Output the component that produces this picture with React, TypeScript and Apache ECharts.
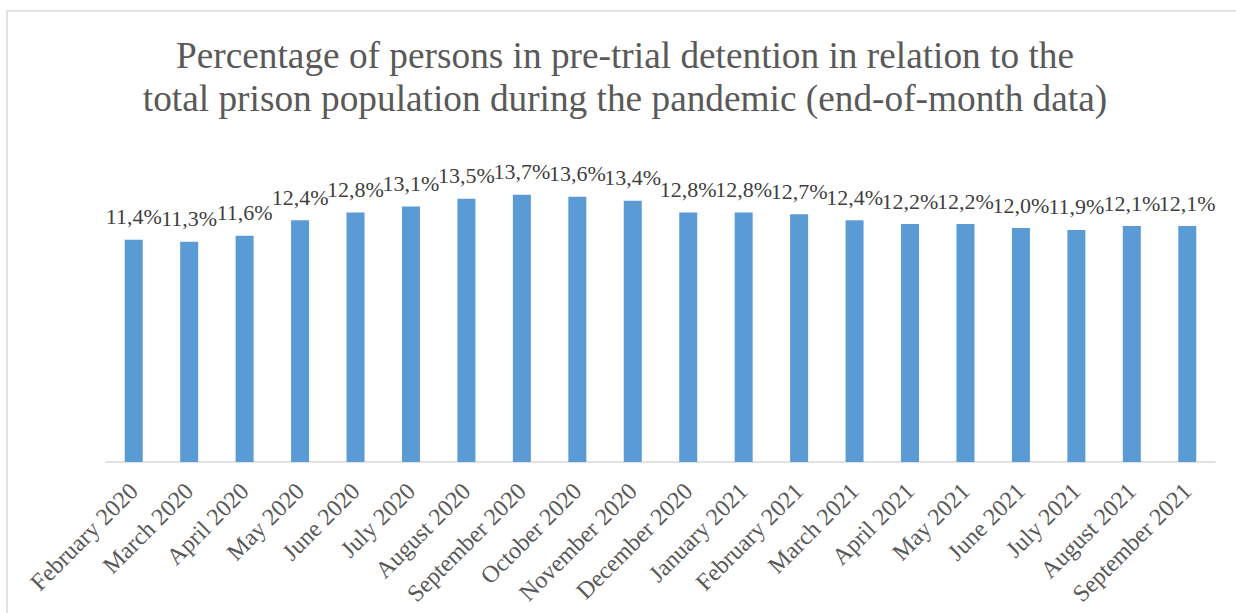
import React, { useEffect, useRef } from "react";
import * as echarts from "echarts";

const titleLines = [
  "Percentage of persons in pre-trial detention in relation to the",
  "total prison population during the pandemic (end-of-month data)",
];

const months = [
  "February 2020", "March 2020", "April 2020", "May 2020", "June 2020",
  "July 2020", "August 2020", "September 2020", "October 2020", "November 2020",
  "December 2020", "January 2021", "February 2021", "March 2021", "April 2021",
  "May 2021", "June 2021", "July 2021", "August 2021", "September 2021",
];

const shares = [
  11.4, 11.3, 11.6, 12.4, 12.8, 13.1, 13.5, 13.7, 13.6, 13.4,
  12.8, 12.8, 12.7, 12.4, 12.2, 12.2, 12.0, 11.9, 12.1, 12.1,
];

const FONT = "'Liberation Serif', 'Times New Roman', serif";

export default function App() {
  const ref = useRef<HTMLDivElement>(null);
  useEffect(() => {
    if (!ref.current) return;
    const chart = echarts.init(ref.current, null, { renderer: "svg" });
    chart.setOption({
      animation: false,
      backgroundColor: "#ffffff",
      title: {
        text: titleLines.join("\n"),
        left: 620,
        textAlign: "center",
        top: 29,
        textStyle: {
          fontFamily: FONT,
          fontSize: 37.3,
          fontWeight: "normal",
          color: "#595959",
          lineHeight: 43,
        },
      },
      graphic: [
        {
          type: "rect",
          shape: { x: 7, y: 11, width: 1400, height: 800 },
          style: { fill: "none", stroke: "#d9d9d9", lineWidth: 1.5 },
          silent: true,
          z: -1,
        },
      ],
      grid: { left: 106, right: 21, top: 189, bottom: 151, containLabel: false },
      xAxis: {
        type: "category",
        data: months,
        axisLine: { lineStyle: { color: "#d9d9d9", width: 1.5 } },
        axisTick: { show: false },
        axisLabel: {
          rotate: 45,
          interval: 0,
          margin: 25,
          fontFamily: FONT,
          fontSize: 24,
          color: "#595959",
        },
      },
      yAxis: {
        type: "value",
        min: 0,
        max: 14,
        show: false,
        splitLine: { show: false },
      },
      series: [
        {
          type: "bar",
          data: shares,
          barWidth: 18,
          itemStyle: { color: "#5b9bd5" },
          label: {
            show: true,
            position: "top",
            distance: 12,
            fontFamily: FONT,
            fontSize: 22,
            color: "#404040",
            formatter: (p: any) => p.value.toFixed(1).replace(".", ",") + "%",
          },
        },
      ],
    });
    return () => chart.dispose();
  }, []);
  return (
    <div
      ref={ref}
      style={{ position: "absolute", left: 0, top: 0, width: 1236, height: 613 }}
    />
  );
}
